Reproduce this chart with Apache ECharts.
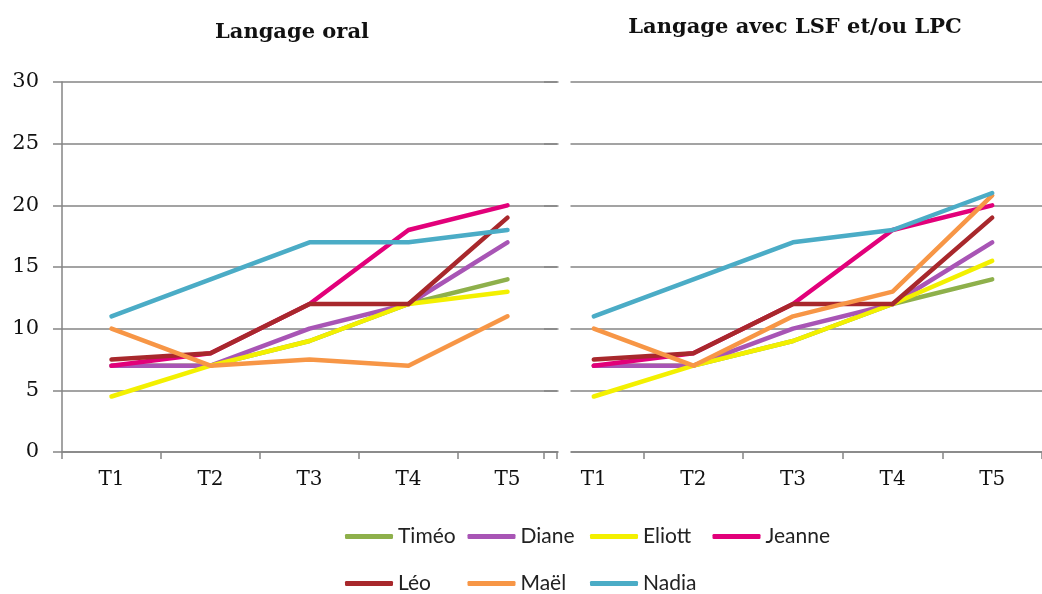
<!DOCTYPE html>
<html>
<head>
<meta charset="utf-8">
<script src="https://cdn.jsdelivr.net/npm/echarts@6/dist/echarts.min.js"></script>
<style>
  html, body { margin: 0; padding: 0; background: #fff; }
  #chart { width: 1042px; height: 594px; }
</style>
</head>
<body>
<div id="chart"></div>
<script>
// catégories et valeurs
var periods = ['T1', 'T2', 'T3', 'T4', 'T5'];
var yTicks = [0, 5, 10, 15, 20, 25, 30];
var names = ['Timéo', 'Diane', 'Eliott', 'Jeanne', 'Léo', 'Maël', 'Nadia'];
var colors = ['#8eb04b', '#a855b5', '#f3f000', '#e2007a', '#a8282c', '#f79646', '#4bacc6'];

// Langage oral
var oralTimeo = [7, 7, 9, 12, 14];
var oralDiane = [7, 7, 10, 12, 17];
var oralEliott = [4.5, 7, 9, 12, 13];
var oralJeanne = [7, 8, 12, 18, 20];
var oralLeo = [7.5, 8, 12, 12, 19];
var oralMael = [10, 7, 7.5, 7, 11];
var oralNadia = [11, 14, 17, 17, 18];

// Langage avec LSF et/ou LPC
var lsfTimeo = [7, 7, 9, 12, 14];
var lsfDiane = [7, 7, 10, 12, 17];
var lsfEliott = [4.5, 7, 9, 12, 15.5];
var lsfJeanne = [7, 8, 12, 18, 20];
var lsfLeo = [7.5, 8, 12, 12, 19];
var lsfMael = [10, 7, 11, 13, 20.8];
var lsfNadia = [11, 14, 17, 18, 21];

var oralData = [oralTimeo, oralDiane, oralEliott, oralJeanne, oralLeo, oralMael, oralNadia];
var lsfData = [lsfTimeo, lsfDiane, lsfEliott, lsfJeanne, lsfLeo, lsfMael, lsfNadia];

var serif = '"DejaVu Serif", "Liberation Serif", serif';
var gridColor = '#858585';

function makeSeries(dataSets, idx) {
    return dataSets.map(function (d, i) {
        return {
            name: names[i],
            type: 'line',
            xAxisIndex: idx,
            yAxisIndex: idx,
            data: d,
            symbol: 'none',
            color: colors[i],
            lineStyle: { width: 4.5, color: colors[i], cap: 'round', join: 'round' }
        };
    });
}

function xAxisCfg(idx) {
    return {
        type: 'category',
        gridIndex: idx,
        data: periods,
        boundaryGap: true,
        axisLine: { lineStyle: { color: gridColor, width: 1.5 } },
        axisTick: { show: true, length: 7, lineStyle: { color: gridColor, width: 1.5 } },
        axisLabel: { color: '#111', fontFamily: serif, fontSize: 20, margin: 18 }
    };
}

function yAxisCfg(idx) {
    return {
        type: 'value',
        gridIndex: idx,
        min: yTicks[0],
        max: yTicks[yTicks.length - 1],
        interval: 5,
        axisLine: { show: idx === 0, lineStyle: { color: gridColor, width: 1.5 } },
        axisTick: { show: idx === 0, length: 9, lineStyle: { color: gridColor, width: 1.5 } },
        axisLabel: { show: idx === 0, color: '#111', fontFamily: serif, fontSize: 21, margin: 23 },
        splitLine: { show: true, lineStyle: { color: gridColor, width: 1.5 } }
    };
}

// légende en colonnes fixes (4 par ligne), une légende par nom
var legends = names.map(function (n, i) {
    return {
        data: [n],
        left: 345 + (i % 4) * 122.5,
        top: i < 4 ? 526 : 573,
        padding: 0,
        itemGap: 0,
        icon: 'roundRect', itemWidth: 48, itemHeight: 5,
        textStyle: { color: '#222', fontFamily: 'Lato, "Open Sans", sans-serif', fontSize: 21 }
    };
});

var myChart = echarts.init(document.getElementById('chart'));
myChart.setOption({
    animation: false,
    backgroundColor: '#fff',
    title: [
        {
            text: 'Langage oral',
            left: 287, top: 17, textAlign: 'center',
            textStyle: { fontFamily: serif, fontWeight: 'bold', fontSize: 21, color: '#111' }
        },
        {
            text: 'Langage avec LSF et/ou LPC',
            left: 790, top: 12, textAlign: 'center',
            textStyle: { fontFamily: serif, fontWeight: 'bold', fontSize: 21, color: '#111' }
        }
    ],
    legend: legends,
    grid: [
        { left: 62, top: 82, width: 495, bottom: 142 },
        { left: 544, top: 82, width: 510, bottom: 142 }
    ],
    xAxis: [xAxisCfg(0), xAxisCfg(1)],
    yAxis: [yAxisCfg(0), yAxisCfg(1)],
    graphic: [
        {
            type: 'rect', z: 100,
            shape: { x: 558.5, y: 70, width: 12, height: 392 },
            style: { fill: '#fff' }
        }
    ],
    series: makeSeries(oralData, 0).concat(makeSeries(lsfData, 1))
});
</script>
</body>
</html>
